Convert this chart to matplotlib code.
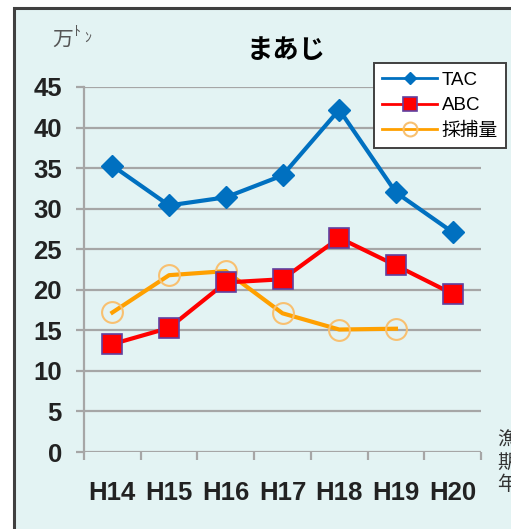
import matplotlib.pyplot as plt
from matplotlib.patches import Rectangle

years = ['H14', 'H15', 'H16', 'H17', 'H18', 'H19', 'H20']
tac = [35.3, 30.4, 31.4, 34.1, 42.2, 32.0, 27.1]
abc = [13.3, 15.3, 20.9, 21.3, 26.4, 23.0, 19.5]
catch = [17.2, 21.8, 22.3, 17.1, 15.1, 15.2]

jp = ['Noto Sans CJK JP']
lat = ['Liberation Sans', 'Noto Sans CJK JP']
bg = '#e3f3f3'
grid = '#a6a6a6'

fig = plt.figure(figsize=(5.11, 5.29), dpi=100)
fig.patch.set_facecolor('white')
# chart frame (cut off on right and bottom)
fig.patches.append(Rectangle((14 / 511, -0.1), 1.2, 1 - 8 / 529 + 0.1, transform=fig.transFigure,
                             facecolor=bg, edgecolor='#404040', linewidth=2.2, zorder=-1))

ax = fig.add_axes([84 / 511, 1 - 452 / 529, 397 / 511, 365 / 529])
ax.set_facecolor('none')
x = range(len(years))

ax.plot(x, tac, color='#0070c0', lw=3, marker='D', ms=11, mfc='#0070c0', mec='#0070c0',
        label='TAC', zorder=4)
ax.plot(x, abc, color='#ff0000', lw=3, marker='s', ms=14, mfc='#ff0000', mec='#6040a0',
        mew=1.2, label='ABC', zorder=3)
ax.plot(range(len(catch)), catch, color='#ffa000', lw=3, marker='o', ms=15, mfc='none',
        mec='#f8c070', mew=1.5, label='採捕量', zorder=2)

ax.set_xlim(-0.5, 6.5)
ax.set_ylim(0, 45)
ax.set_yticks(range(0, 46, 5))
ax.yaxis.grid(True, color=grid, lw=1.6)
ax.set_axisbelow(True)
for s in ['top', 'right', 'bottom']:
    ax.spines[s].set_visible(False)
ax.spines['left'].set_color(grid)
ax.spines['left'].set_linewidth(1.6)
ax.tick_params(axis='y', length=6, width=1.6, color=grid, pad=10, labelsize=18.5, labelcolor='#222222')
for t in ax.get_yticklabels():
    t.set_family(lat)
    t.set_fontweight('bold')

ax.set_xticks(list(x))
ax.set_xticklabels(years)
ax.set_xticks([i - 0.5 for i in range(8)], minor=True)
ax.tick_params(axis='x', which='major', length=0, pad=21, labelsize=18.5, labelcolor='#222222')
ax.tick_params(axis='x', which='minor', length=6, width=1.6, color=grid)
for t in ax.get_xticklabels():
    t.set_family(lat)
    t.set_fontweight('bold')

ax.set_title('まあじ', family=jp, fontsize=19, fontweight='bold', pad=21, x=0.51)

fig.text(52 / 511, 1 - 46 / 529, '万', family=jp, fontsize=15, color='#555555')
fig.text(73 / 511, 1 - 36 / 529, 'ﾄ', family=jp, fontsize=10, color='#555555')
fig.text(84 / 511, 1 - 42 / 529, 'ﾝ', family=jp, fontsize=10, color='#555555')
fig.text(497 / 511, 1 - 430 / 529, '漁\n期\n年', family=jp, fontsize=14, color='#333333',
         va='top', ha='left', linespacing=1.05)

leg = ax.legend(loc='upper left', bbox_to_anchor=(374 / 511, 1 - 63 / 529),
                bbox_transform=fig.transFigure, prop={'family': lat, 'size': 13.5},
                fancybox=False, framealpha=1, edgecolor='#404040', handlelength=2.9,
                handletextpad=0.25, borderpad=0.45, labelspacing=0.45, borderaxespad=0)
leg.get_frame().set_linewidth(1.4)
leg.legend_handles[0].set_markersize(6)
leg.legend_handles[1].set_markersize(10)
leg.legend_handles[2].set_markersize(10)
for h in leg.legend_handles:
    h.set_linewidth(2)

fig.savefig('out.png', dpi=100)
